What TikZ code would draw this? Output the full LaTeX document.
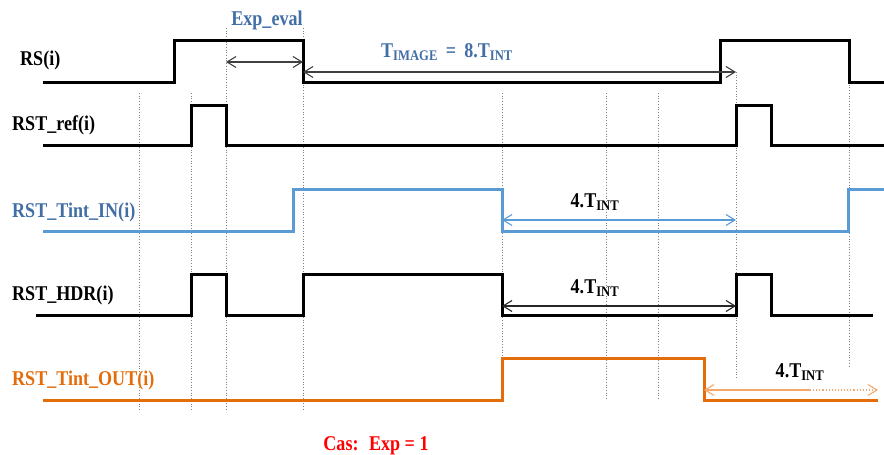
\documentclass[tikz,border=0pt]{standalone}
\usepackage{fontspec}
\setmainfont[FakeStretch=0.86]{Liberation Serif}
\usepackage{xcolor}
\usetikzlibrary{arrows.meta}
\definecolor{sigblue}{RGB}{91,155,213}
\definecolor{txtblue}{RGB}{65,110,165}
\definecolor{sigorange}{RGB}{228,108,10}
\definecolor{arrorange}{RGB}{244,168,105}

\begin{document}
\begin{tikzpicture}[
  x=1pt, y=-1pt,
  font=\fontsize{21}{24}\selectfont\bfseries,
  barb/.tip={Straight Barb[length=9pt,width=11pt]},
  sig/.style={line width=3pt},
  tick/.style={gray, dotted, line width=0.7pt},
  dim/.style={barb-barb, line width=1.1pt},
  lbl/.style={anchor=base west, inner sep=0pt},
  val/.style={anchor=base, inner sep=0pt}
]
\useasboundingbox (0,0) rectangle (884,455);
\foreach \x/\ya/\yb in {139/93/410, 191/93/410, 226/28/410, 303/28/410, 502/93/402,
                        606/93/400, 658/93/400, 736/72/378, 849/82/368}
  \draw[tick] (\x,\ya) -- (\x,\yb);

\node[lbl] (rs) at (20,65) {RS(i)};
\node[lbl] (ref) at (12,130) {RST\_ref(i)};
\node[lbl, text=txtblue] (tin) at (12,217) {RST\_Tint\_IN(i)};
\node[lbl] (hdr) at (12,300) {RST\_HDR(i)};
\node[lbl, text=sigorange] (tout) at (12,385) {RST\_Tint\_OUT(i)};

\draw[sig] (43,82) -- (174,82) -- (174,40) -- (303,40) -- (303,82) -- (720,82)
  -- (720,40) -- (849,40) -- (849,82) -- (884,82);
\draw[sig] (43,145) -- (191,145) -- (191,105) -- (226,105) -- (226,145) -- (736,145)
  -- (736,105) -- (771,105) -- (771,145) -- (884,145);
\draw[sig, sigblue] (43,231) -- (293,231) -- (293,189) -- (502,189) -- (502,231)
  -- (848,231) -- (848,189) -- (884,189);
\draw[sig] (36,315) -- (191,315) -- (191,274) -- (226,274) -- (226,315) -- (303,315)
  -- (303,274) -- (502,274) -- (502,315) -- (736,315) -- (736,274) -- (771,274)
  -- (771,315) -- (873,315);
\draw[sig, sigorange] (43,400) -- (502,400) -- (502,358) -- (704,358) -- (704,400) -- (878,400);

\coordinate (e1) at (226,62);
\coordinate (e2) at (303,62);
\coordinate (i1) at (303,72);
\coordinate (i2) at (736,72);
\coordinate (b1) at (502,220);
\coordinate (b2) at (736,220);
\coordinate (h1) at (502,306);
\coordinate (h2) at (736,306);
\coordinate (o1) at (704,390);
\coordinate (om) at (810,390);
\coordinate (o2) at (878,390);

\draw[dim, black!75] (e1) -- (e2);
\draw[dim, black!75] (i1) -- (i2);
\draw[dim, sigblue] (b1) -- (b2);
\draw[dim, black!85] (h1) -- (h2);
\draw[dim, arrorange, barb-] (o1) -- (om);
\draw[dim, arrorange, dotted, -barb] (om) -- (o2);

\node[val, text=txtblue] (exp) at (267,25) {Exp\_eval};
\node[val, text=txtblue] (timg) at (447,57) {T\textsubscript{IMAGE} \,=\, 8.T\textsubscript{INT}};
\node[val] (nb) at (595,207) {4.T\textsubscript{INT}};
\node[val] (nh) at (595,293) {4.T\textsubscript{INT}};
\node[val] (no) at (800,377) {4.T\textsubscript{INT}};
\node[val, text=red] (cas) at (376,450) {Cas:~ Exp = 1};
\end{tikzpicture}
\end{document}
